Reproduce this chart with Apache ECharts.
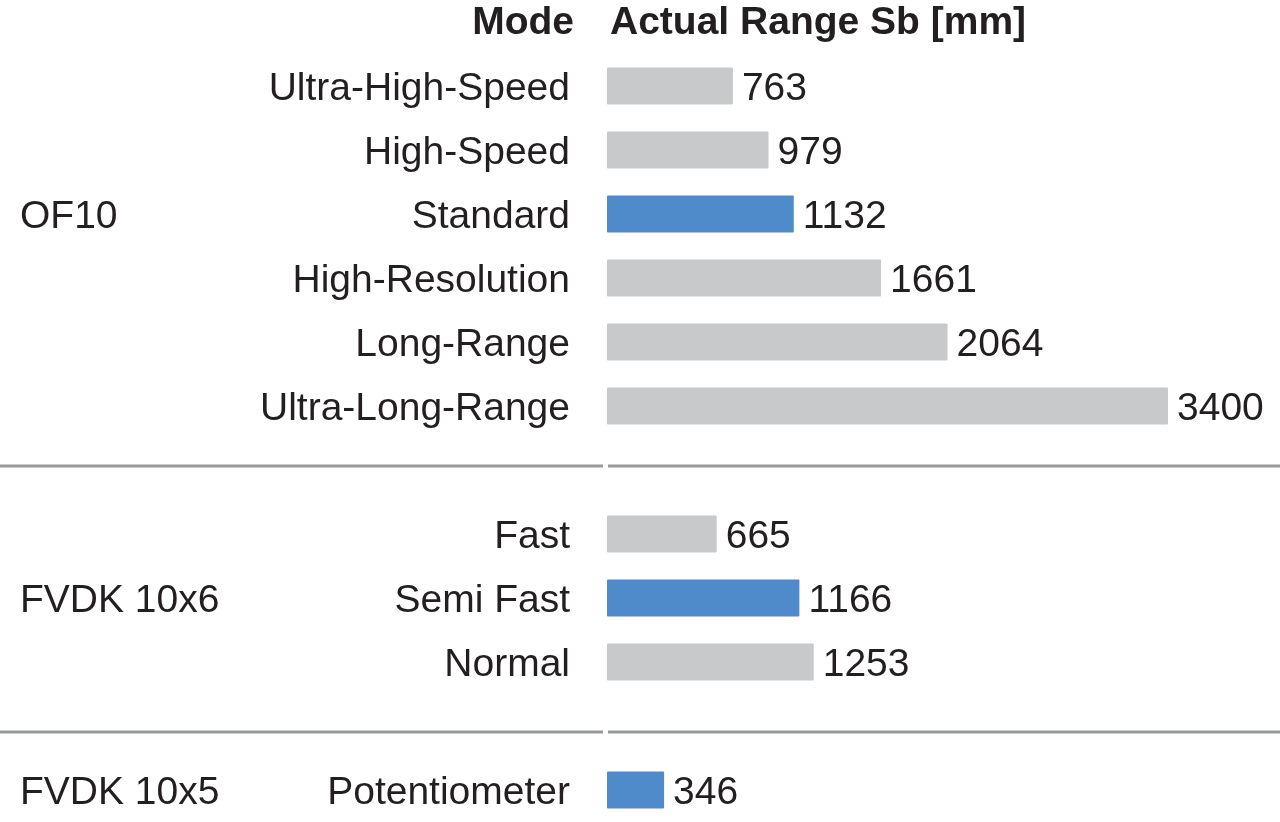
<!DOCTYPE html>
<html>
<head>
<meta charset="utf-8">
<script src="https://cdn.jsdelivr.net/npm/echarts@6/dist/echarts.min.js"></script>
<style>
html,body{margin:0;padding:0;background:#fff;}
#chart{width:1280px;height:822px;}
</style>
</head>
<body>
<div id="chart"></div>
<script>
const categories = ['Ultra-High-Speed','High-Speed','Standard','High-Resolution','Long-Range','Ultra-Long-Range',' ','Fast','Semi Fast','Normal','  ','Potentiometer'];
const groupLabels = ['','','OF10','','','','','','FVDK 10x6','','','FVDK 10x5'];
const values = [763,979,1132,1661,2064,3400,null,665,1166,1253,null,346];
const highlighted = [false,false,true,false,false,false,false,false,true,false,false,true];
const headerMode = 'Mode';
const headerValue = 'Actual Range Sb [mm]';

const FONT = "'Liberation Sans', Arial, sans-serif";
const TEXT = '#231f20';
const GREY = '#c8c9cb';
const BLUE = '#4f8bcb';
const SEP = '#97999b';
const FS = 39;
const richT = {t:{fontSize:FS, color:TEXT, fontFamily:FONT, padding:[6,0,0,0]}};

const chart = echarts.init(document.getElementById('chart'), null, {renderer:'canvas'});
chart.setOption({
  backgroundColor:'#fff',
  animation:false,
  textStyle:{fontFamily:FONT},
  grid:{left:607, right:112, top:54, bottom:0},
  xAxis:{type:'value', min:0, max:3400, show:false},
  yAxis:[
    {type:'category', data:categories, inverse:true,
     axisLine:{show:false}, axisTick:{show:false}, splitLine:{show:false},
     axisLabel:{margin:37, fontSize:FS, color:TEXT, fontFamily:FONT, align:'right', rich:richT,
       formatter:v=>v.trim()?'{t|'+v.trim()+'}':''}},
    {type:'category', data:categories, inverse:true, position:'left',
     axisLine:{show:false}, axisTick:{show:false}, splitLine:{show:false},
     axisLabel:{margin:587, fontSize:FS, color:TEXT, fontFamily:FONT, align:'left', rich:richT,
       formatter:(v,i)=>groupLabels[i]?'{t|'+groupLabels[i]+'}':''}}
  ],
  series:[{
    type:'bar', yAxisIndex:0, barWidth:37,
    data: values.map((v,i)=>({value:v, itemStyle:{color: highlighted[i]?BLUE:GREY, borderRadius:1}})),
    label:{show:true, position:'right', distance:9, fontSize:FS, color:TEXT, fontFamily:FONT, offset:[0,3],
      formatter:p=>p.value==null?'':String(p.value)}
  }],
  graphic:[
    {type:'text', right:1280-574, top:4, style:{text:headerMode, font:"bold "+FS+"px "+FONT, fill:TEXT}},
    {type:'text', left:610, top:4, style:{text:headerValue, font:"bold "+FS+"px "+FONT, fill:TEXT}},
    {type:'line', shape:{x1:0,y1:466,x2:603,y2:466}, style:{stroke:SEP, lineWidth:3}},
    {type:'line', shape:{x1:608,y1:466,x2:1280,y2:466}, style:{stroke:SEP, lineWidth:3}},
    {type:'line', shape:{x1:0,y1:732,x2:603,y2:732}, style:{stroke:SEP, lineWidth:3}},
    {type:'line', shape:{x1:608,y1:732,x2:1280,y2:732}, style:{stroke:SEP, lineWidth:3}}
  ]
});
</script>
</body>
</html>
